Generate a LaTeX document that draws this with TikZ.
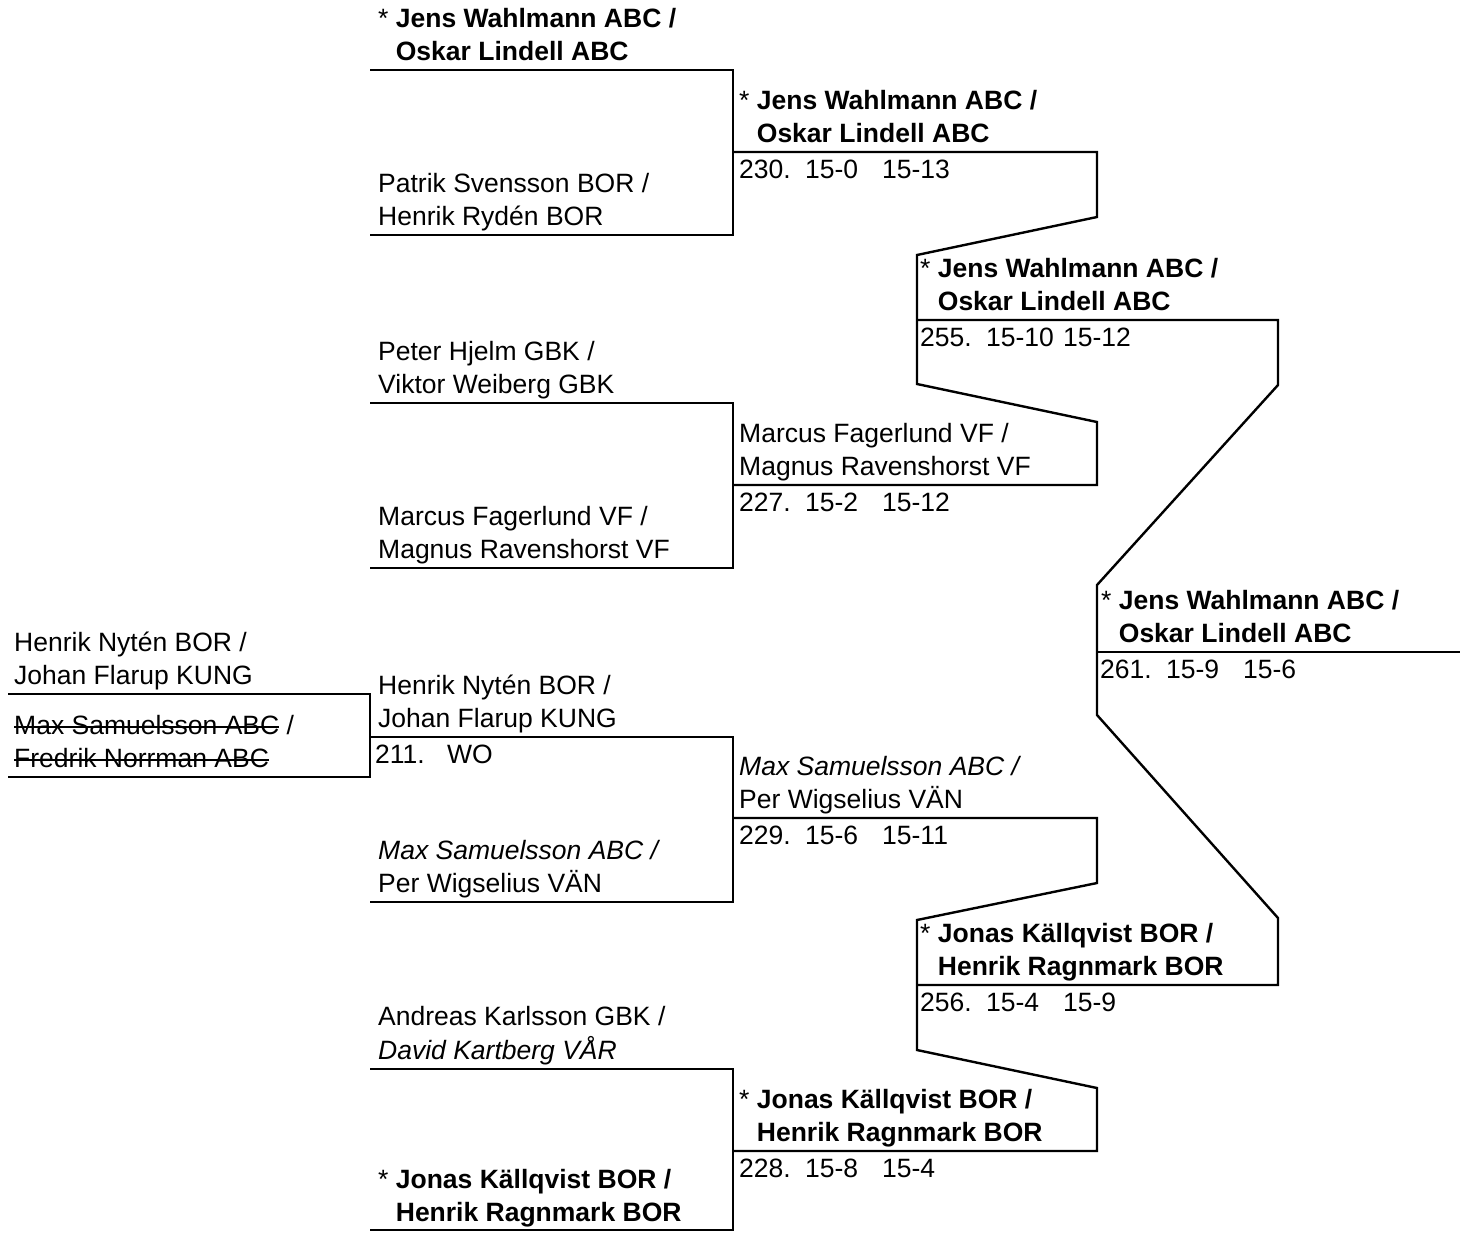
\documentclass[tikz,border=0pt]{standalone}
\usepackage{fontspec}
\setmainfont{Liberation Sans}
\newsavebox\strikebox
\newcommand{\strikeout}[1]{\sbox\strikebox{#1}\rlap{\rule[0.26em]{\wd\strikebox}{1.6pt}}\usebox\strikebox}
\newcommand{\twoline}[2]{\strut#1\\\strut#2}
\newcommand{\seedpair}[2]{\strut* \textbf{#1}\\\strut\phantom{* }\textbf{#2}}
\newcommand{\scoreline}[3]{\makebox[66pt][l]{#1}\makebox[77pt][l]{#2}#3}
\begin{document}
\begin{tikzpicture}[x=1pt,y=-1pt,
  team/.style={anchor=south west, inner sep=0pt, align=left, font=\fontsize{26.5}{33}\selectfont},
  score/.style={anchor=base west, inner sep=0pt, font=\fontsize{26.5}{33}\selectfont},
  brk/.style={line width=2.4pt, line join=miter}]
\useasboundingbox (0,0) rectangle (1466,1232);

% ---------- coordinates of the bracket lines ----------
% round 0
\coordinate (a0s) at (8,694);   \coordinate (a0e) at (370,694);
\coordinate (b0s) at (8,777);   \coordinate (b0e) at (370,777);
% round 1
\coordinate (m1s) at (370,70);   \coordinate (m1e) at (733,70);
\coordinate (m2s) at (370,235);  \coordinate (m2e) at (733,235);
\coordinate (m3s) at (370,403);  \coordinate (m3e) at (733,403);
\coordinate (m4s) at (370,568);  \coordinate (m4e) at (733,568);
\coordinate (m5s) at (370,737);  \coordinate (m5e) at (733,737);
\coordinate (m6s) at (370,902);  \coordinate (m6e) at (733,902);
\coordinate (m7s) at (370,1069); \coordinate (m7e) at (733,1069);
\coordinate (m8s) at (370,1230); \coordinate (m8e) at (733,1230);
% round 2
\coordinate (q1s) at (733,152);  \coordinate (q1e) at (1097,152);
\coordinate (q2s) at (733,485);  \coordinate (q2e) at (1097,485);
\coordinate (q3s) at (733,818);  \coordinate (q3e) at (1097,818);
\coordinate (q4s) at (733,1151); \coordinate (q4e) at (1097,1151);
% round 3
\coordinate (s1s) at (917,320);  \coordinate (s1e) at (1278,320);
\coordinate (s2s) at (917,985);  \coordinate (s2e) at (1278,985);
% final
\coordinate (fs) at (1097,652);  \coordinate (fe) at (1460,652);

% ---------- bracket lines ----------
\draw[brk] (a0s) -- (a0e) -- (b0e) -- (b0s);
\draw[brk] (m1s) -- (m1e) -- (m2e) -- (m2s);
\draw[brk] (m3s) -- (m3e) -- (m4e) -- (m4s);
\draw[brk] (m5s) -- (m5e) -- (m6e) -- (m6s);
\draw[brk] (m7s) -- (m7e) -- (m8e) -- (m8s);
\draw[brk] (q1s) -- (q1e) -- (1097,217) -- (917,255) -- (917,384) -- (1097,422) -- (q2e) -- (q2s);
\draw[brk] (q3s) -- (q3e) -- (1097,883) -- (917,920) -- (917,1050) -- (1097,1088) -- (q4e) -- (q4s);
\draw[brk] (s1s) -- (s1e) -- (1278,385) -- (1097,585) -- (1097,715) -- (1278,918) -- (s2e) -- (s2s);
\draw[brk] (fs) -- (fe);

% ---------- round 0 ----------
\node[team] (t0a) at (14,695) {\twoline{Henrik Nytén BOR /}{Johan Flarup KUNG}};
\node[team] (t0b) at (14,778) {\twoline{\strikeout{Max Samuelsson ABC} /}{\strikeout{Fredrik Norrman ABC}}};

% ---------- round 1 ----------
\node[team] (t1a) at (378,71)   {\seedpair{Jens Wahlmann ABC /}{Oskar Lindell ABC}};
\node[team] (t1b) at (378,236)  {\twoline{Patrik Svensson BOR /}{Henrik Rydén BOR}};
\node[team] (t1c) at (378,404)  {\twoline{Peter Hjelm GBK /}{Viktor Weiberg GBK}};
\node[team] (t1d) at (378,569)  {\twoline{Marcus Fagerlund VF /}{Magnus Ravenshorst VF}};
\node[team] (t1e) at (378,738)  {\twoline{Henrik Nytén BOR /}{Johan Flarup KUNG}};
\node[score] (p211) at (375,763) {\makebox[72pt][l]{211.}WO};
\node[team] (t1f) at (378,903)  {\twoline{\textit{Max Samuelsson ABC /}}{Per Wigselius VÄN}};
\node[team] (t1g) at (378,1070) {\twoline{Andreas Karlsson GBK /}{\textit{David Kartberg VÅR}}};
\node[team] (t1h) at (378,1232) {\seedpair{Jonas Källqvist BOR /}{Henrik Ragnmark BOR}};

% ---------- round 2 ----------
\node[team] (t2a) at (739,153)  {\seedpair{Jens Wahlmann ABC /}{Oskar Lindell ABC}};
\node[score] (p230) at (739,178) {\scoreline{230.}{15-0}{15-13}};
\node[team] (t2b) at (739,486)  {\twoline{Marcus Fagerlund VF /}{Magnus Ravenshorst VF}};
\node[score] (p227) at (739,511) {\scoreline{227.}{15-2}{15-12}};
\node[team] (t2c) at (739,819)  {\twoline{\textit{Max Samuelsson ABC /}}{Per Wigselius VÄN}};
\node[score] (p229) at (739,844) {\scoreline{229.}{15-6}{15-11}};
\node[team] (t2d) at (739,1152) {\seedpair{Jonas Källqvist BOR /}{Henrik Ragnmark BOR}};
\node[score] (p228) at (739,1177) {\scoreline{228.}{15-8}{15-4}};

% ---------- round 3 ----------
\node[team] (t3a) at (920,321)  {\seedpair{Jens Wahlmann ABC /}{Oskar Lindell ABC}};
\node[score] (p255) at (920,346) {\scoreline{255.}{15-10}{15-12}};
\node[team] (t3b) at (920,986)  {\seedpair{Jonas Källqvist BOR /}{Henrik Ragnmark BOR}};
\node[score] (p256) at (920,1011) {\scoreline{256.}{15-4}{15-9}};

% ---------- final ----------
\node[team] (t4) at (1101,653)  {\seedpair{Jens Wahlmann ABC /}{Oskar Lindell ABC}};
\node[score] (p261) at (1100,678) {\scoreline{261.}{15-9}{15-6}};
\end{tikzpicture}
\end{document}
